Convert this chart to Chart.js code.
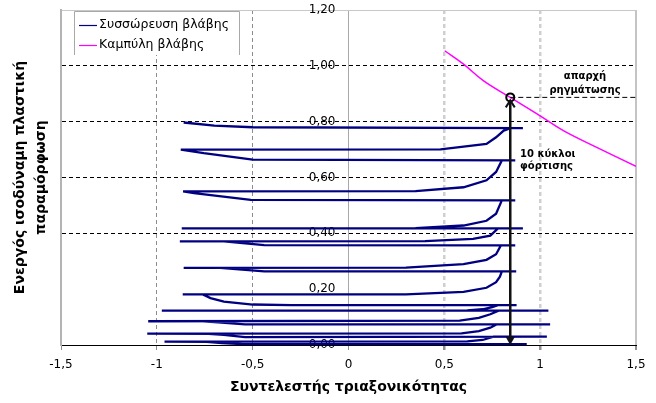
<!DOCTYPE html>
<html><head><meta charset="utf-8">
<script src="https://cdn.jsdelivr.net/npm/chart.js@4.4.1/dist/chart.umd.min.js"></script>
<style>html,body{margin:0;padding:0;background:#fff;}#wrap{width:656px;height:403px;position:relative;}</style>
</head><body><div id="wrap"><canvas id="c" width="656" height="403"></canvas></div>
<script>
const seriesNames = ['Συσσώρευση βλάβης', 'Καμπύλη βλάβης'];
// damage accumulation path (in drawing order)
const damageX = [0.00,0.93,-0.55,-0.66,-0.74,-0.96,0.62,0.70,0.757,1.035,-0.54,-0.65,-0.73,-1.05,0.59,0.68,0.74,0.774,1.052,-0.54,-0.68,-0.76,-1.045,0.58,0.68,0.74,0.783,1.043,-0.974,0.62,0.70,0.75,0.78,0.877,-0.30,-0.50,-0.65,-0.72,-0.76,-0.865,0.30,0.60,0.72,0.77,0.79,0.80,0.875,-0.44,-0.67,-0.86,0.30,0.60,0.72,0.77,0.795,0.87,-0.44,-0.65,-0.88,0.40,0.65,0.74,0.78,0.91,-0.87,0.35,0.60,0.72,0.77,0.80,0.87,-0.51,-0.806,-0.863,0.35,0.60,0.72,0.77,0.80,0.87,-0.50,-0.755,-0.875,0.48,0.72,0.77,0.81,0.845,0.91,-0.50,-0.70,-0.86];
const damageY = [0.003,0.003,0.003,0.007,0.011,0.012,0.013,0.018,0.030,0.030,0.028,0.036,0.040,0.041,0.042,0.050,0.062,0.074,0.074,0.074,0.081,0.085,0.085,0.087,0.097,0.110,0.123,0.123,0.123,0.124,0.128,0.136,0.143,0.143,0.143,0.145,0.155,0.168,0.181,0.181,0.181,0.190,0.205,0.225,0.245,0.264,0.264,0.264,0.276,0.276,0.277,0.290,0.305,0.325,0.357,0.357,0.358,0.371,0.371,0.372,0.380,0.392,0.418,0.418,0.418,0.419,0.428,0.445,0.470,0.518,0.518,0.520,0.544,0.550,0.551,0.565,0.590,0.620,0.661,0.661,0.664,0.687,0.700,0.701,0.720,0.744,0.768,0.777,0.777,0.780,0.786,0.797];
// damage curve
const curveX = [0.502,0.60,0.705,0.844,1.0,1.121,1.295,1.5];
const curveY = [1.054,1.006,0.946,0.887,0.821,0.768,0.708,0.640];
// crack initiation point / loading arrow
const crackX = [0.844];
const crackY = [0.887];
const arrowY = [0.0, 0.887];
const leaderX = [0.844, 1.5];
const xTickLabels = ['-1,5','-1','-0,5','0','0,5','1','1,5'];
const yTickLabels = ['0,00','0,20','0,40','0,60','0,80','1,00','1,20'];
const xTitle = 'Συντελεστής τριαξονικότητας';
const yTitle = ['Ενεργός ισοδύναμη πλαστική', 'παραμόρφωση'];
const noteCrack = ['απαρχή', 'ρηγμάτωσης'];
const noteCycles = ['10 κύκλοι', 'φόρτισης'];

const near = (a, b) => Math.abs(a - b) < 1e-6;
const pts = (xs, ys) => xs.map((x, i) => ({x, y: ys[i]}));

const legendPlugin = {
  id: 'xlLegend',
  afterDraw(chart) {
    const ctx = chart.ctx;
    const L = 74, T = 11, R = 240, B = 55;
    ctx.save();
    ctx.fillStyle = '#fff';
    ctx.fillRect(L, T, R - L, B - T);
    ctx.strokeStyle = '#a8a8a8';
    ctx.lineWidth = 1;
    ctx.beginPath();
    ctx.moveTo(L + 0.5, B); ctx.lineTo(L + 0.5, T + 0.5); ctx.lineTo(R - 0.5, T + 0.5); ctx.lineTo(R - 0.5, B);
    ctx.stroke();
    [0, 1].forEach((di, k) => {
      const ds = chart.data.datasets[di];
      const y = 25 + k * 20;
      ctx.strokeStyle = ds.borderColor;
      ctx.lineWidth = 1.2;
      ctx.beginPath(); ctx.moveTo(79, y + 0.5); ctx.lineTo(97, y + 0.5); ctx.stroke();
      ctx.fillStyle = '#000';
      ctx.font = '12.5px "DejaVu Sans"';
      ctx.textBaseline = 'middle';
      ctx.textAlign = 'left';
      ctx.fillText(ds.label, 99, y);
    });
    ctx.restore();
  }
};

const notesPlugin = {
  id: 'notes',
  afterDatasetsDraw(chart) {
    const ctx = chart.ctx;
    const xs = chart.scales.x, ys = chart.scales.y;
    const px = xs.getPixelForValue(crackX[0]);
    const pb = ys.getPixelForValue(arrowY[0]);
    const pt = ys.getPixelForValue(arrowY[1]);
    ctx.save();
    ctx.fillStyle = '#111';
    ctx.strokeStyle = '#111';
    ctx.lineWidth = 2;
    ctx.beginPath();
    ctx.moveTo(px - 4.5, pb - 8); ctx.lineTo(px, pb); ctx.lineTo(px + 4.5, pb - 8); ctx.closePath();
    ctx.fill();
    ctx.beginPath();
    ctx.moveTo(px - 4.5, pt + 10); ctx.lineTo(px, pt + 3); ctx.lineTo(px + 4.5, pt + 10);
    ctx.stroke();
    ctx.restore();
  },
  afterDraw(chart) {
    const ctx = chart.ctx;
    ctx.save();
    ctx.fillStyle = '#000';
    ctx.font = 'bold 10px "DejaVu Sans"';
    ctx.textBaseline = 'alphabetic';
    ctx.textAlign = 'center';
    ctx.fillText(noteCrack[0], 585, 79);
    ctx.fillText(noteCrack[1], 585, 93);
    ctx.textAlign = 'left';
    ctx.fillText(noteCycles[0], 520, 157);
    ctx.fillText(noteCycles[1], 520, 169);
    ctx.restore();
  }
};

new Chart(document.getElementById('c'), {
  type: 'scatter',
  data: {
    datasets: [
      { label: seriesNames[0], data: pts(damageX, damageY), showLine: true, borderColor: '#000080', borderWidth: 2.3, pointRadius: 0, tension: 0, order: 2 },
      { label: seriesNames[1], data: pts(curveX, curveY), showLine: true, borderColor: '#ff00ff', borderWidth: 1.5, pointRadius: 0, tension: 0.4, order: 1 },
      { label: 'leader', data: pts(leaderX, [crackY[0], crackY[0]]), showLine: true, borderColor: '#000', borderWidth: 1, borderDash: [5, 3], pointRadius: 0, order: 0 },
      { label: 'arrow', data: pts([crackX[0], crackX[0]], [arrowY[0] + 0.01, arrowY[1] - 0.01]), showLine: true, borderColor: '#111', borderWidth: 2.5, pointRadius: 0, order: 0 },
      { label: 'crack', data: pts(crackX, crackY), showLine: false, pointRadius: 4, pointBorderWidth: 2, pointBorderColor: '#000', pointBackgroundColor: 'rgba(0,0,0,0)', order: 0 }
    ]
  },
  options: {
    responsive: false,
    animation: false,
    devicePixelRatio: 1,
    layout: { padding: { top: 10, right: 20, left: 0, bottom: 0 } },
    plugins: { legend: { display: false }, tooltip: { enabled: false } },
    scales: {
      x: {
        type: 'linear', min: -1.5, max: 1.5,
        afterFit(s) { s.height = 58; },
        ticks: { stepSize: 0.5, autoSkip: false, maxRotation: 0, padding: 8, color: '#000',
          font: { family: 'DejaVu Sans', size: 12 }, callback: (v, i) => xTickLabels[i] },
        grid: {
          drawTicks: true, tickLength: 5, tickColor: '#909090',
          color: c => { const v = c.tick ? c.tick.value : null; if (v === null) return '#000';
            if (near(v, -1.5)) return 'rgba(0,0,0,0)'; if (near(v, 0)) return '#a8a8a8'; if (near(v, 1.5)) return '#c4c4c4';
            if (v < 0) return '#8c8c8c'; return '#cfcfcf'; },
          lineWidth: c => { const v = c.tick ? c.tick.value : 0; if (near(v, 1.5)) return 2; if (near(v, 0)) return 1; if (v > 0) return 2.5; return 1; }
        },
        border: { display: true, color: '#000', width: 1,
          dash: c => { const v = c.tick ? c.tick.value : null; if (v === null || near(Math.abs(v), 1.5) || near(v, 0)) return []; return [4, 3]; } },
        title: { display: true, text: xTitle, color: '#000', font: { family: 'DejaVu Sans', size: 14, weight: 'bold' }, padding: { top: 4, bottom: 7 } }
      },
      y: {
        type: 'linear', min: 0, max: 1.2, position: 'left',
        afterFit(s) { s.width = 61; },
        ticks: { stepSize: 0.2, display: false },
        grid: {
          drawTicks: false,
          color: c => { const v = c.tick ? c.tick.value : null; if (v === null) return '#000';
            if (near(v, 0) || near(v, 0.2)) return 'rgba(0,0,0,0)'; if (near(v, 1.2)) return '#c8c8c8'; return '#000'; },
          lineWidth: 1
        },
        border: { display: true, color: '#b4b4b4', width: 2,
          dash: c => { const v = c.tick ? c.tick.value : null; if (v === null || near(v, 1.2)) return []; return [4, 3]; } },
        title: { display: true, text: yTitle, color: '#000', font: { family: 'DejaVu Sans', size: 14, weight: 'bold', lineHeight: 1.5 }, padding: { top: 10, bottom: 0 } }
      },
      yt: {
        type: 'linear', min: 0, max: 1.2, position: { x: -0.068 }, z: 1,
        ticks: { stepSize: 0.2, padding: 0, color: '#000', font: { family: 'DejaVu Sans', size: 12 }, callback: (v, i) => yTickLabels[i] },
        grid: { drawOnChartArea: false, drawTicks: false, color: '#808080' },
        border: { display: false }
      }
    }
  },
  plugins: [legendPlugin, notesPlugin]
});
</script>
</body></html>
